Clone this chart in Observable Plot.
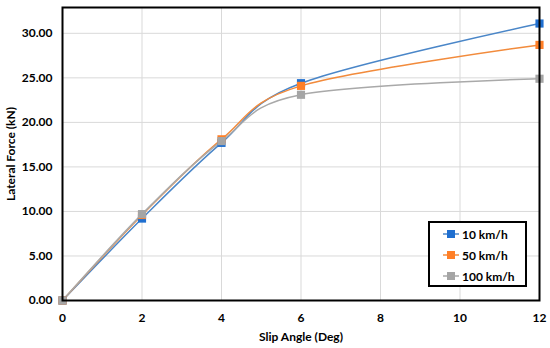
<!DOCTYPE html>
<html><head><meta charset="utf-8">
<script src="https://cdn.jsdelivr.net/npm/d3@7"></script>
<script src="https://cdn.jsdelivr.net/npm/@observablehq/plot@0.6"></script>
<style>
html,body{margin:0;padding:0;background:#fff;}
#wrap{position:relative;width:550px;height:348px;font-family:Lato,"Open Sans",sans-serif;}
#legend{position:absolute;left:428px;top:221px;width:95px;height:62px;border:2px solid #000;background:#fff;font-weight:bold;font-size:12px;}
.row{position:absolute;left:12px;display:flex;align-items:center;height:16px;}
.row svg{margin-right:2px;}
</style></head>
<body><div id="wrap"><div id="legend"></div></div>
<script>
const slipAngles = [0, 2, 4, 6, 12];
const series = ["10 km/h", "50 km/h", "100 km/h"];
const force10 = [0, 9.2, 17.7, 24.4, 31.1];
const force50 = [0, 9.6, 18.1, 24.1, 28.7];
const force100 = [0, 9.7, 17.9, 23.1, 24.9];
const colors = ["#4a86c8", "#f28b3c", "#a9a9a9"];
const markerColors = ["#1f6fd0", "#ff7f27", "#a5a5a5"];
const xTicks = [0, 2, 4, 6, 8, 10, 12];
const yTicks = [0, 5, 10, 15, 20, 25, 30];

const values = [force10, force50, force100];
const data = [];
series.forEach((s, i) => slipAngles.forEach((a, j) => data.push({series: s, angle: a, force: values[i][j]})));

const font = "Lato, 'Open Sans', sans-serif";
const plot = Plot.plot({
  width: 550, height: 348,
  marginLeft: 62, marginRight: 11, marginTop: 7, marginBottom: 48,
  style: {fontFamily: font, fontSize: "12px", fontWeight: "bold", color: "#000", background: "#fff"},
  x: {domain: [0, 12]},
  y: {domain: [0, 32.9]},
  color: {domain: series, range: colors},
  marks: [
    Plot.gridX(xTicks, {stroke: "#d9d9d9", strokeOpacity: 1, strokeWidth: 1}),
    Plot.gridY(yTicks, {stroke: "#d9d9d9", strokeOpacity: 1, strokeWidth: 1}),
    Plot.axisX({ticks: xTicks, tickSize: 0, tickPadding: 13, label: "Slip Angle (Deg)", labelAnchor: "center", labelOffset: 40, labelArrow: "none", tickFormat: d => d}),
    Plot.axisY({ticks: yTicks, tickSize: 0, tickPadding: 10, tickFormat: d => d.toFixed(2), label: "Lateral Force (kN)", labelAnchor: "center", labelOffset: 56, labelArrow: "none"}),
    ...series.map((s, i) => Plot.line(data.filter(d => d.series === s), {x: "angle", y: "force", stroke: colors[i], strokeWidth: 1.5, curve: "cardinal", tension: 0})),
    ...series.map((s, i) => Plot.dot(data.filter(d => d.series === s), {x: "angle", y: "force", fill: markerColors[i], symbol: "square", r: 4.6})),
    Plot.frame({stroke: "#000", strokeWidth: 2})
  ]
});
const wrap = document.getElementById("wrap");
wrap.insertBefore(plot, wrap.firstChild);
plot.style.position = "absolute"; plot.style.left = "0"; plot.style.top = "0";

const legend = document.getElementById("legend");
series.forEach((s, i) => {
  const row = document.createElement("div");
  row.className = "row";
  row.style.top = (3 + i * 21) + "px";
  row.innerHTML = `<svg width="18" height="12"><line x1="1" x2="17" y1="6" y2="6" stroke="${colors[i]}" stroke-width="1.5"/><rect x="5" y="2" width="8" height="8" fill="${markerColors[i]}"/></svg><span>${s}</span>`;
  legend.appendChild(row);
});
</script></body></html>
